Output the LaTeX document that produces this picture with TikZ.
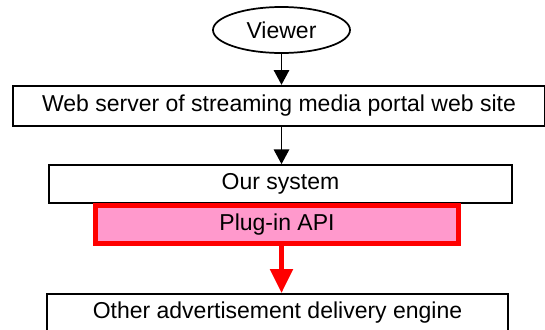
\documentclass[tikz,border=0pt]{standalone}
\usepackage{fontspec}
\setmainfont{Liberation Sans}
\usetikzlibrary{arrows.meta, shapes.geometric}
\definecolor{plugpink}{HTML}{FF99CC}

\begin{document}
\begin{tikzpicture}[x=0.75pt, y=-0.75pt,
  every node/.style={font=\fontsize{17.25}{20}\selectfont, inner sep=0pt},
  box/.style={rectangle, draw=black, line width=1.3pt, fill=white},
  link/.style={line width=1.3pt, -{Triangle[length=11pt, width=11.5pt]}},
  redlink/.style={red, line width=3.75pt, -{Triangle[length=18pt, width=16.5pt]}}]
\useasboundingbox (0,0) rectangle (545,329);
\clip (0,0) rectangle (545,329);
\node[ellipse, draw=black, line width=1.3pt, minimum width=102.75pt, minimum height=34.5pt] (viewer) at (281.5, 30) {Viewer};
\node[box, minimum width=399pt, minimum height=30.5pt] (server) at (279, 106) {Web server of streaming media portal web site};
\node[box, minimum width=347.25pt, minimum height=28.5pt] (oursys) at (280.5, 184) {Our system};
\node[rectangle, draw=red, fill=plugpink, line width=3.75pt, minimum width=272.25pt, minimum height=28.5pt] (plugin) at (277, 224.5) {Plug-in API};
\node[box, minimum width=345.75pt, minimum height=28.5pt] (other) at (277.5, 313) {Other advertisement delivery engine};
\draw[link] (viewer) -- (viewer |- server.north);
\draw[link] (viewer |- server.south) -- (viewer |- oursys.north);
\draw[redlink] (viewer |- plugin.south) -- (viewer |- other.north);
\end{tikzpicture}
\end{document}
